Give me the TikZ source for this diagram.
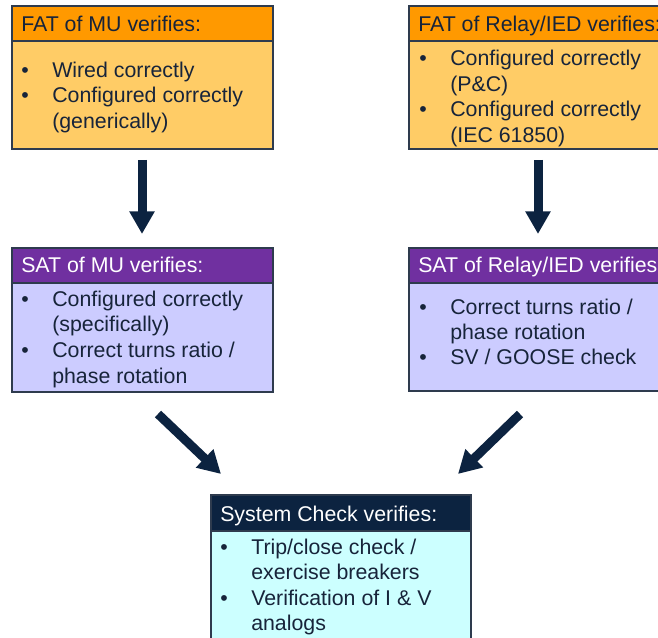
\documentclass[tikz,border=0pt]{standalone}
\usepackage{fontspec}
\setmainfont{Liberation Sans}
\usetikzlibrary{arrows.meta}
\definecolor{orgH}{HTML}{FF9900}
\definecolor{orgB}{HTML}{FFCC66}
\definecolor{purH}{HTML}{7030A0}
\definecolor{purB}{HTML}{CCCCFF}
\definecolor{navH}{HTML}{0C2340}
\definecolor{cyaB}{HTML}{CCFFFF}
\definecolor{edge}{HTML}{2E3B4E}
\definecolor{txt}{HTML}{17243A}
\tikzset{
  boxline/.style={draw=edge, line width=0.8pt},
  hdrtxt/.style={anchor=base west, inner sep=0pt, font=\fontsize{16}{19}\selectfont},
  itemtxt/.style={anchor=base west, inner sep=0pt, text=txt, font=\fontsize{16}{19}\selectfont},
  bul/.style={anchor=base, inner sep=0pt, text=txt, font=\fontsize{16}{19}\selectfont},
  blockarrow/.style={draw=navH, line width=6.75pt, -{Triangle[width=18pt,length=17pt]}}
}
\begin{document}
\begin{tikzpicture}[x=0.75pt,y=-0.75pt]
\useasboundingbox (0,0) rectangle (658,638);
\clip (0,0) rectangle (658,638);
% FAT of MU
\draw[boxline, fill=orgB] (12,41) rectangle (273,149);
\draw[boxline, fill=orgH] (12,6) rectangle (273,41);
\node[hdrtxt, text=txt] (h1) at (21,32) {FAT of MU verifies:};
\node[bul] (b11) at (25,78) {•};
\node[itemtxt] (t11) at (52,78) {Wired correctly};
\node[bul] (b12) at (25,103) {•};
\node[itemtxt] (t12) at (52,103) {Configured correctly};
\node[itemtxt] (t13) at (52,129) {(generically)};
% FAT of Relay
\draw[boxline, fill=orgB] (409,41) rectangle (680,149);
\draw[boxline, fill=orgH] (409,6) rectangle (680,41);
\node[hdrtxt, text=txt] (h2) at (418,31.5) {FAT of Relay/IED verifies:};
\node[bul] (b21) at (423,66) {•};
\node[itemtxt] (t21) at (450,66) {Configured correctly};
\node[itemtxt] (t22) at (450,91.5) {(P\&C)};
\node[bul] (b22) at (423,117) {•};
\node[itemtxt] (t23) at (450,117) {Configured correctly};
\node[itemtxt] (t24) at (450,142.5) {(IEC 61850)};
% SAT of MU
\draw[boxline, fill=purB] (12,283) rectangle (273,392);
\draw[boxline, fill=purH] (12,248) rectangle (273,283);
\node[hdrtxt, text=white] (h3) at (21,273) {SAT of MU verifies:};
\node[bul] (b31) at (25,307) {•};
\node[itemtxt] (t31) at (52,307) {Configured correctly};
\node[itemtxt] (t32) at (52,332) {(specifically)};
\node[bul] (b32) at (25,358) {•};
\node[itemtxt] (t33) at (52,358) {Correct turns ratio /};
\node[itemtxt] (t34) at (52,383) {phase rotation};
% SAT of Relay
\draw[boxline, fill=purB] (409,283) rectangle (680,391);
\draw[boxline, fill=purH] (409,248) rectangle (680,283);
\node[hdrtxt, text=white] (h4) at (418,273) {SAT of Relay/IED verifies:};
\node[bul] (b41) at (423,315) {•};
\node[itemtxt] (t41) at (450,315) {Correct turns ratio /};
\node[itemtxt] (t42) at (450,340) {phase rotation};
\node[bul] (b42) at (423,365) {•};
\node[itemtxt] (t43) at (450,365) {SV / GOOSE check};
% System Check
\draw[boxline, fill=cyaB] (211,531) rectangle (471,660);
\draw[boxline, fill=navH] (211,495) rectangle (471,531);
\node[hdrtxt, text=white] (h5) at (220,522) {System Check verifies:};
\node[bul] (b51) at (224,555) {•};
\node[itemtxt] (t51) at (251,555) {Trip/close check /};
\node[itemtxt] (t52) at (251,580) {exercise breakers};
\node[bul] (b52) at (224,605) {•};
\node[itemtxt] (t53) at (251,605) {Verification of I \& V};
\node[itemtxt] (t54) at (251,630) {analogs};
% arrows
\coordinate (a1s) at (142,160);
\coordinate (a1e) at (142,234);
\coordinate (a2s) at (538,160);
\coordinate (a2e) at (538,234);
\coordinate (a3s) at (158,414);
\coordinate (a3e) at (221,474);
\coordinate (a4s) at (520,414);
\coordinate (a4e) at (458,474);
\draw[blockarrow] (a1s) -- (a1e);
\draw[blockarrow] (a2s) -- (a2e);
\draw[blockarrow] (a3s) -- (a3e);
\draw[blockarrow] (a4s) -- (a4e);
\end{tikzpicture}
\end{document}
